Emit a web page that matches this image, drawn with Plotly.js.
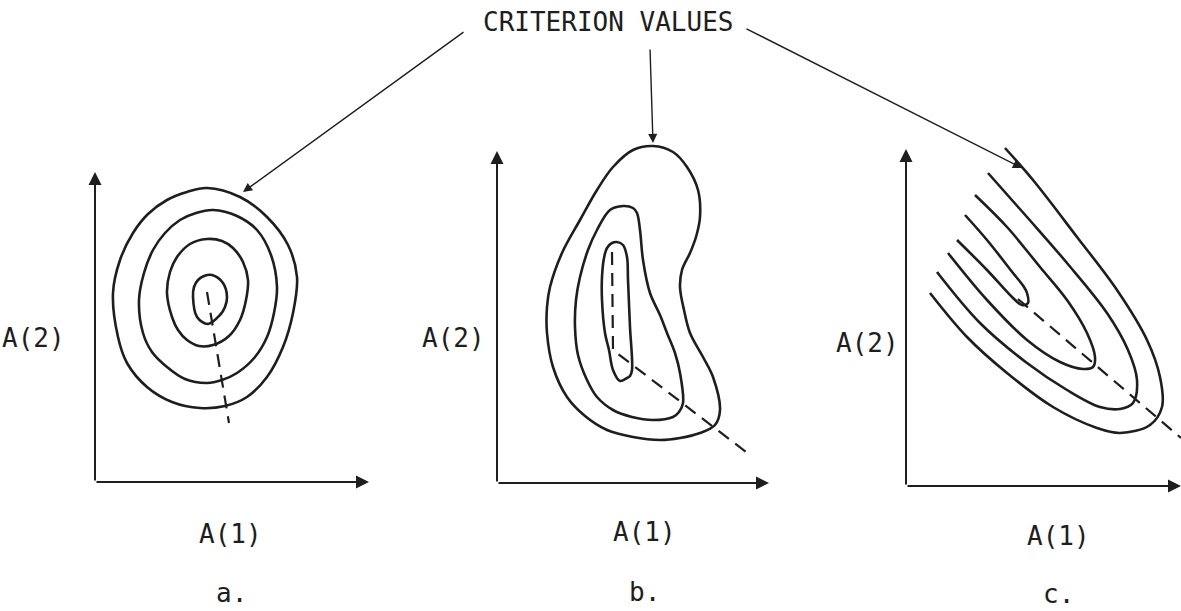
<!DOCTYPE html>
<html>
<head>
<meta charset="utf-8">
<script src="https://cdn.plot.ly/plotly-3.0.1.min.js"></script>
<style>
  html, body { margin: 0; padding: 0; background: #fff; }
  #chart { width: 1181px; height: 611px; }
</style>
</head>
<body>
<div id="chart"></div>
<script>
// Contour sketches in page pixels (x right, y down).

// a. -- round, well-conditioned minimum
const aOuterX = [207, 240, 267, 288, 297, 293, 283, 267, 247, 225, 200, 172, 147, 127, 118, 113, 120, 133, 148, 167, 187, 207];
const aOuterY = [188, 197, 217, 245, 277, 313, 347, 377, 397, 406, 408, 402, 387, 363, 337, 293, 260, 233, 214, 200, 192, 188];
const aMid2X = [213, 237, 257, 271, 277, 274, 267, 255, 237, 222, 207, 185, 167, 152, 143, 139, 144, 153, 165, 180, 196, 213];
const aMid2Y = [210, 216, 230, 255, 287, 313, 337, 357, 373, 380, 383, 379, 367, 352, 333, 300, 273, 250, 233, 220, 213, 210];
const aMid3X = [207, 222, 233, 243, 248, 246, 240, 229, 213, 199, 187, 178, 172, 167, 170, 177, 190, 207];
const aMid3Y = [239, 241, 248, 262, 280, 300, 320, 336, 345, 346, 340, 330, 317, 293, 272, 257, 244, 239];
const aInnerX = [212, 223, 227, 225, 220, 208, 197, 193, 194, 198, 204, 212];
const aInnerY = [275, 283, 297, 307, 315, 324, 317, 297, 287, 280, 276, 275];
const aValleyX = [207, 229];
const aValleyY = [292, 423];

// b. -- curved (banana) valley
const bOuterX = [653, 673, 687, 698, 700, 696, 690, 682, 680, 684, 690, 703, 713, 720, 715, 700, 680, 660, 633, 607, 585, 567, 553, 547, 547, 550, 562, 580, 597, 613, 633, 653];
const bOuterY = [146, 152, 167, 190, 217, 237, 253, 270, 287, 310, 333, 357, 377, 410, 425, 433, 438, 440, 437, 430, 416, 397, 367, 333, 307, 287, 253, 220, 190, 167, 150, 146];
const bMidX = [623, 633, 637, 640, 643, 650, 660, 667, 675, 680, 683, 679, 673, 653, 632, 613, 597, 587, 578, 575, 576, 580, 588, 597, 610, 623];
const bMidY = [206, 208, 213, 230, 260, 293, 315, 333, 353, 373, 403, 412, 417, 420, 417, 410, 397, 380, 355, 327, 300, 277, 250, 230, 210, 206];
const bInnerX = [617, 623, 627, 628, 630, 632, 630, 627, 620, 613, 609, 605, 602, 602, 604, 607, 612, 617];
const bInnerY = [242, 245, 257, 280, 327, 370, 376, 378, 381, 370, 350, 333, 300, 277, 258, 248, 243, 242];
const bValleyX = [612, 613, 750];
const bValleyY = [252, 350, 455];

// c. -- long straight ridge, open contours running off to the upper left
const cLine1X = [965, 987, 1013, 1024, 1027, 1028, 1022, 1013, 987, 957];
const cLine1Y = [215, 240, 273, 287, 293, 303, 305, 298, 270, 240];
const cLine2X = [975, 1007, 1040, 1067, 1087, 1095, 1093, 1083, 1060, 1027, 987, 948];
const cLine2Y = [195, 227, 267, 300, 333, 357, 367, 369, 362, 340, 300, 253];
const cLine3X = [988, 1027, 1067, 1107, 1128, 1137, 1133, 1120, 1100, 1067, 1027, 980, 937];
const cLine3Y = [173, 217, 263, 313, 350, 380, 403, 409, 407, 390, 363, 323, 272];
const cLine4X = [1005, 1033, 1077, 1117, 1147, 1160, 1162, 1150, 1120, 1097, 1053, 1007, 967, 930];
const cLine4Y = [148, 180, 237, 290, 340, 377, 407, 425, 433, 428, 407, 373, 337, 293];
const cValleyX = [1018, 1181];
const cValleyY = [299, 438];

// Axis frames: [originX, originY, yTipY, xTipX]
const frames = [
  [95, 482, 172, 369],
  [497, 483, 151, 769],
  [906, 486, 149, 1181],
];

// Labels
const titleText = 'CRITERION VALUES';
const titlePos = [608, 22];
const pointerTails = [[465, 31], [650, 48], [745, 28]];
const pointerHeads = [[243, 192], [653, 143], [1022, 168]];
const ylabelPos = [[33, 338], [453, 338], [867, 343]];
const xlabelPos = [[230, 534], [644, 532], [1058, 536]];
const panelNames = ['a.', 'b.', 'c.'];
const panelPos = [[231, 593], [644, 592], [1058, 594]];

const INK = '#1e1e1e';
const FONT = 'DejaVu Sans Mono, monospace';

function curve(x, y) {
  return { x: x, y: y, mode: 'lines', hoverinfo: 'skip',
    line: { color: INK, width: 2.6, shape: 'spline', smoothing: 1 } };
}
function valley(x, y) {
  return { x: x, y: y, mode: 'lines', hoverinfo: 'skip',
    line: { color: INK, width: 2.2, dash: '13px,8px' } };
}

const traces = [
  curve(aOuterX, aOuterY), curve(aMid2X, aMid2Y), curve(aMid3X, aMid3Y), curve(aInnerX, aInnerY),
  valley(aValleyX, aValleyY),
  curve(bOuterX, bOuterY), curve(bMidX, bMidY), curve(bInnerX, bInnerY),
  valley(bValleyX, bValleyY),
  curve(cLine1X, cLine1Y), curve(cLine2X, cLine2Y), curve(cLine3X, cLine3Y), curve(cLine4X, cLine4Y),
  valley(cValleyX, cValleyY),
];

function arrow(tail, head, width) {
  return { x: head[0], y: head[1], ax: tail[0], ay: tail[1],
    xref: 'x', yref: 'y', axref: 'x', ayref: 'y', text: '',
    showarrow: true, arrowhead: 2, arrowsize: 1.3, arrowwidth: width,
    arrowcolor: INK, standoff: 0, startstandoff: 0 };
}
function label(pos, text, size) {
  return { x: pos[0], y: pos[1], xref: 'x', yref: 'y', text: text, showarrow: false,
    xanchor: 'center', yanchor: 'middle', font: { family: FONT, size: size, color: INK } };
}

const annotations = [];
frames.forEach(function (f) {
  annotations.push(arrow([f[0], f[1]], [f[0], f[2]], 2));
  annotations.push(arrow([f[0], f[1]], [f[3], f[1]], 2));
});
pointerTails.forEach(function (t, i) { annotations.push(arrow(t, pointerHeads[i], 1.4)); });
annotations.push(label(titlePos, titleText, 26));
ylabelPos.forEach(function (p) { annotations.push(label(p, 'A(2)', 26)); });
xlabelPos.forEach(function (p) { annotations.push(label(p, 'A(1)', 26)); });
panelPos.forEach(function (p, i) { annotations.push(label(p, panelNames[i], 26)); });

const layout = {
  width: 1181, height: 611,
  paper_bgcolor: '#ffffff', plot_bgcolor: '#ffffff',
  margin: { t: 0, r: 0, b: 0, l: 0 },
  showlegend: false,
  xaxis: { range: [0, 1181], visible: false, fixedrange: true },
  yaxis: { range: [611, 0], visible: false, fixedrange: true },
  annotations: annotations,
};

Plotly.newPlot('chart', traces, layout, { displayModeBar: false, staticPlot: true });
</script>
</body>
</html>
